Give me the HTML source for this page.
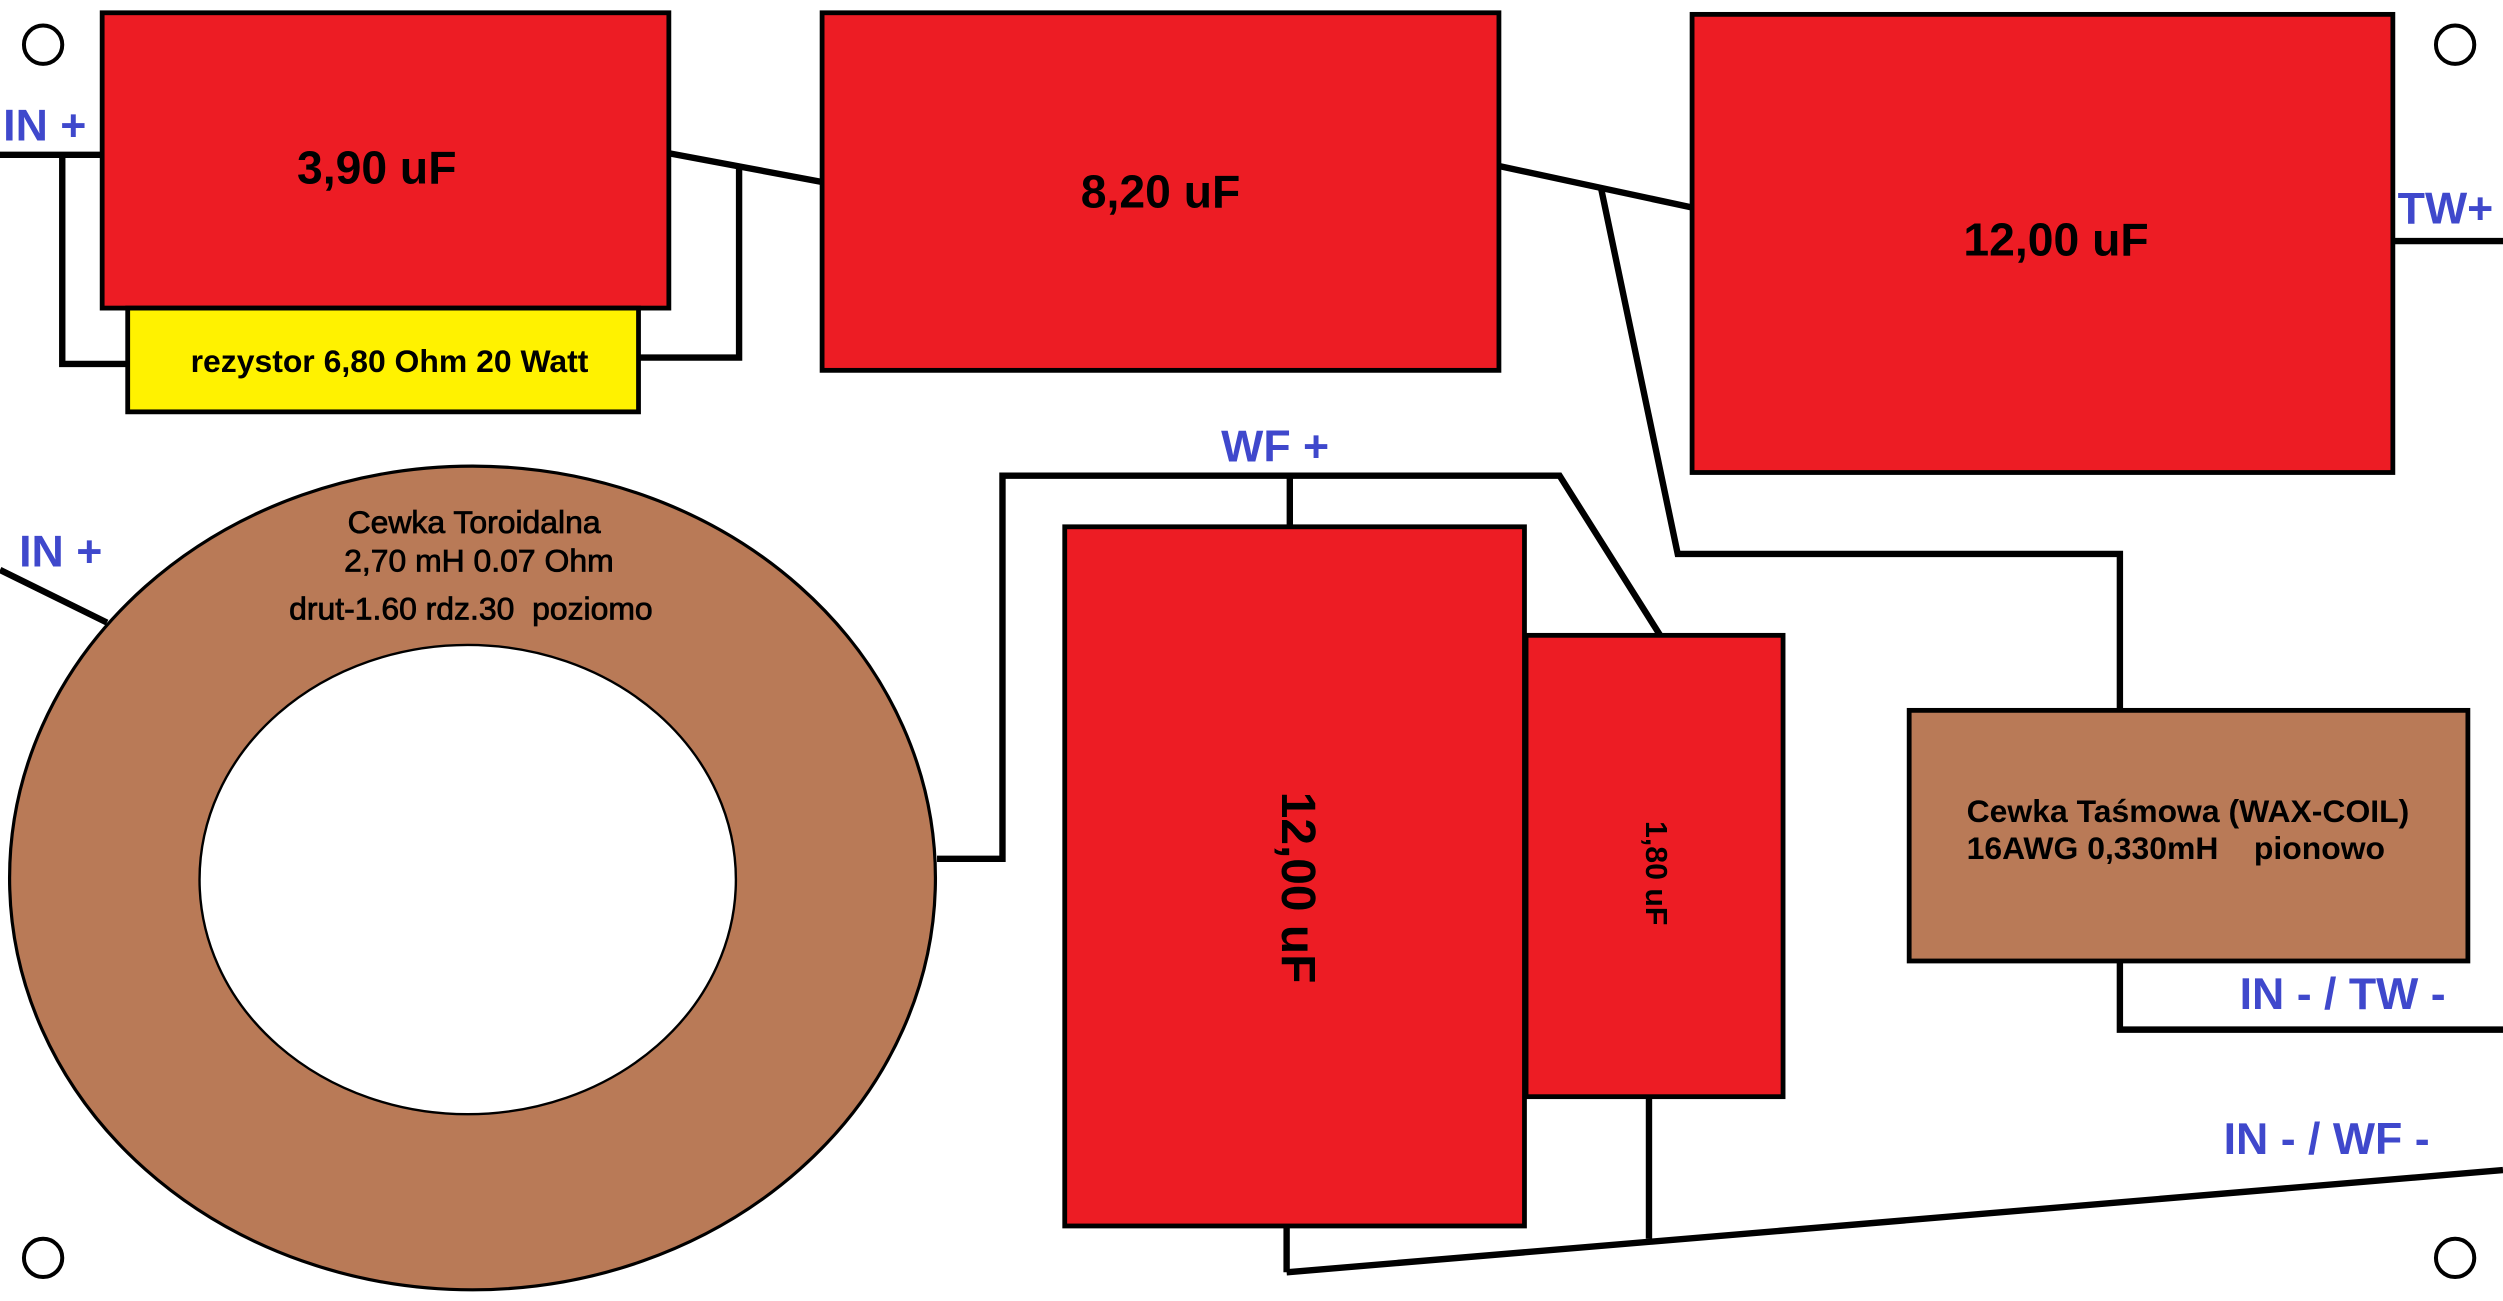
<!DOCTYPE html>
<html><head><meta charset="utf-8"><style>
html,body{margin:0;padding:0;background:#fff;}
svg{display:block;}
text{font-family:"Liberation Sans",Arial,sans-serif;font-weight:bold;}
.b{fill:#3F48CC;font-size:28px;}
.n{font-weight:normal;stroke:#000;stroke-width:0.5;}
</style></head><body>
<svg width="2503" height="1301" viewBox="0 0 1568 815" preserveAspectRatio="none" xmlns="http://www.w3.org/2000/svg">
<rect width="1568" height="815" fill="#fff"/>
<g fill="#fff" stroke="#000" stroke-width="2.5">
<circle cx="27" cy="28" r="12"/><circle cx="1538" cy="28" r="12"/>
<circle cx="27" cy="788" r="12"/><circle cx="1538" cy="788" r="12"/>
</g>
<g stroke="#000" stroke-width="4" fill="none">
<polyline points="0,97 64,97"/>
<polyline points="39,97 39,228 80,228"/>
<polyline points="400,224 463,224 463,103"/>
<line x1="419" y1="96" x2="515" y2="114"/>
<line x1="939" y1="104" x2="1060" y2="130"/>
<polyline points="1003,118 1051,347 1328,347 1328,445"/>
<line x1="1499" y1="151" x2="1568" y2="151"/>
<line x1="0" y1="357" x2="67" y2="390"/>
<polyline points="587,538 628,538 628,298 977,298 1040,398"/>
<line x1="808" y1="298" x2="808" y2="330"/>
<line x1="806" y1="768" x2="806" y2="797"/>
<line x1="1033" y1="687" x2="1033" y2="776"/>
<line x1="806" y1="797" x2="1568" y2="733"/>
<polyline points="1328,602 1328,645 1568,645"/>
</g>
<g stroke="#000" stroke-width="3">
<rect x="64" y="8" width="355" height="185" fill="#ED1C24"/>
<rect x="80" y="193" width="320" height="65" fill="#FFF200"/>
<rect x="515" y="8" width="424" height="224" fill="#ED1C24"/>
<rect x="1060" y="9" width="439" height="287" fill="#ED1C24"/>
<rect x="667" y="330" width="288" height="438" fill="#ED1C24"/>
<rect x="956" y="398" width="161" height="289" fill="#ED1C24"/>
<rect x="1196" y="445" width="350" height="157" fill="#B97A57"/>
</g>
<ellipse cx="296" cy="550" rx="290" ry="258" fill="#B97A57" stroke="#000" stroke-width="2"/>
<ellipse cx="293" cy="551" rx="168" ry="147" fill="#fff" stroke="#000" stroke-width="1.5"/>
<g text-anchor="middle" fill="#000">
<text x="236" y="115" font-size="29">3,90 uF</text>
<text x="244" y="233" font-size="20">rezystor 6,80 Ohm 20 Watt</text>
<text x="727" y="130" font-size="29">8,20 uF</text>
<text x="1288" y="160" font-size="29">12,00 uF</text>
<text class="n" x="297" y="334" font-size="20">Cewka Toroidalna</text>
<text class="n" x="300" y="358" font-size="20">2,70 mH 0.07 Ohm</text>
<text class="n" x="295" y="388" font-size="20" xml:space="preserve">drut-1.60 rdz.30  poziomo</text>
<text transform="translate(803,556) rotate(90)" font-size="30">12,00 uF</text>
<text transform="translate(1031,547) rotate(90)" font-size="19">1,80 uF</text>
</g>
<text x="1232" y="515" font-size="20">Cewka Taśmowa (WAX-COIL)</text>
<text x="1232" y="538" font-size="20" xml:space="preserve">16AWG 0,330mH    pionowo</text>
<text class="b" x="2" y="88">IN +</text>
<text class="b" x="12" y="355">IN +</text>
<text class="b" x="765" y="289">WF +</text>
<text class="b" x="1502" y="140">TW+</text>
<text class="b" x="1403" y="632">IN - / TW -</text>
<text class="b" x="1393" y="723">IN - / WF -</text>
</svg>
</body></html>
